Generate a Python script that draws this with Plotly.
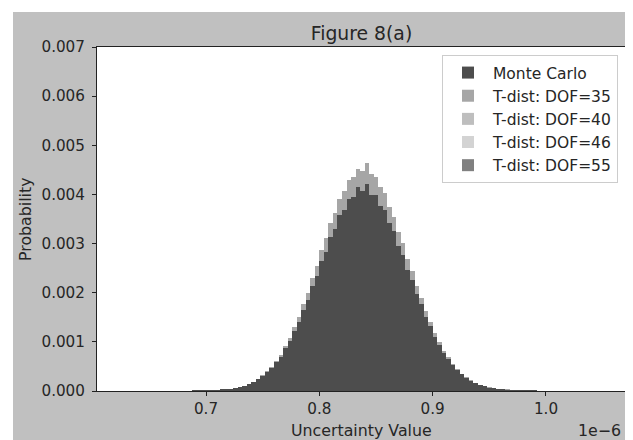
import plotly.graph_objects as go

# Bin centres (units of 1e-6)
bin_centers = [0.690, 0.694, 0.698, 0.702, 0.706, 0.710, 0.714, 0.718, 0.722, 0.726,
               0.730, 0.734, 0.738, 0.742, 0.746, 0.750, 0.754, 0.758, 0.762, 0.766,
               0.770, 0.774, 0.778, 0.782, 0.786, 0.790, 0.794, 0.798, 0.802, 0.806,
               0.810, 0.814, 0.818, 0.822, 0.826, 0.830, 0.834, 0.838, 0.842, 0.846,
               0.850, 0.854, 0.858, 0.862, 0.866, 0.870, 0.874, 0.878, 0.882, 0.886,
               0.890, 0.894, 0.898, 0.902, 0.906, 0.910, 0.914, 0.918, 0.922, 0.926,
               0.930, 0.934, 0.938, 0.942, 0.946, 0.950, 0.954, 0.958, 0.962, 0.966,
               0.970, 0.974, 0.978, 0.982, 0.986, 0.990]
bin_width = 0.004

monte_carlo = [0.0000030, 0.0000038, 0.0000065, 0.0000082, 0.0000128, 0.0000165, 0.0000250, 0.0000320, 0.0000470, 0.0000600,
               0.0000850, 0.000106, 0.000147, 0.000182, 0.000244, 0.000297, 0.000388, 0.000466, 0.000593, 0.000702,
               0.000868, 0.001010, 0.001221, 0.001395, 0.001645, 0.001842, 0.002131, 0.002335, 0.002640, 0.002838,
               0.003140, 0.003305, 0.003583, 0.003690, 0.003917, 0.003952, 0.004150, 0.004060, 0.004210, 0.003995,
               0.003980, 0.003770, 0.003680, 0.003410, 0.003258, 0.002959, 0.002768, 0.002462, 0.002255, 0.001964,
               0.001761, 0.001502, 0.001319, 0.001101, 0.000946, 0.000774, 0.000652, 0.000521, 0.000430, 0.000337,
               0.000273, 0.000208, 0.000166, 0.000123, 0.0000960, 0.0000700, 0.0000540, 0.0000380, 0.0000290, 0.0000200,
               0.0000150, 0.0000100, 0.0000072, 0.0000048, 0.0000034, 0.0000021]

# T-distribution histograms (DOF 35/40/46/55) overlap almost exactly in the picture
tdist_values = [0.0000028, 0.0000042, 0.0000058, 0.0000090, 0.0000120, 0.0000178, 0.0000236, 0.0000340, 0.0000450, 0.0000630,
                0.0000840, 0.000112, 0.000146, 0.000192, 0.000248, 0.000318, 0.000398, 0.000490, 0.000620, 0.000742,
                0.000915, 0.001080, 0.001298, 0.001502, 0.001765, 0.002000, 0.002295, 0.002548, 0.002860, 0.003110,
                0.003420, 0.003630, 0.003915, 0.004070, 0.004300, 0.004360, 0.004520, 0.004480, 0.004630, 0.004410,
                0.004360, 0.004150, 0.004020, 0.003750, 0.003550, 0.003240, 0.003005, 0.002690, 0.002435, 0.002130,
                0.001890, 0.001620, 0.001405, 0.001178, 0.001000, 0.000820, 0.000684, 0.000548, 0.000448, 0.000350,
                0.000280, 0.000214, 0.000169, 0.000126, 0.0000965, 0.0000720, 0.0000535, 0.0000392, 0.0000286, 0.0000205,
                0.0000147, 0.0000104, 0.0000071, 0.0000049, 0.0000033, 0.0000022]

tdist_labels = ["T-dist: DOF=55", "T-dist: DOF=46", "T-dist: DOF=40", "T-dist: DOF=35"]
tdist_colors = ["#808080", "#d3d3d3", "#bebebe", "#a6a6a6"]
tdist_ranks = [5, 4, 3, 2]

x_tickvals = [0.7, 0.8, 0.9, 1.0]
x_ticktext = ["0.7", "0.8", "0.9", "1.0"]
y_tickvals = [0.000, 0.001, 0.002, 0.003, 0.004, 0.005, 0.006, 0.007]

FONT = "DejaVu Sans"
TXT = "#262626"
TICK_SIZE = 15.2
LABEL_SIZE = 15.8
LEGEND_SIZE = 15.5
TITLE_SIZE = 18.8

fig = go.Figure()
for lab, col, rk in zip(tdist_labels, tdist_colors, tdist_ranks):
    fig.add_trace(go.Bar(x=bin_centers, y=tdist_values, width=bin_width, name=lab,
                         marker=dict(color=col, line=dict(width=0)), legendrank=rk))
fig.add_trace(go.Bar(x=bin_centers, y=monte_carlo, width=bin_width, name="Monte Carlo",
                     marker=dict(color="#4d4d4d", line=dict(width=0)), legendrank=1))

# The page body has an 8px margin; figure is 625x432 so it ends at the window edge.
OFF = 8
FW, FH = 633 - OFF, 440 - OFF
# plot area in page coordinates: left 97, right 626, top 47, bottom 391
L, R, T, B = 97 - OFF, 626 - OFF, 47 - OFF, 391 - OFF
W, H = R - L, B - T

def px(xp):  # page x -> paper
    return (xp - OFF - L) / W

def py(yp):  # page y -> paper
    return (B - (yp - OFF)) / H

GRAY = "#c0c0c0"

fig.update_layout(
    width=FW, height=FH,
    margin=dict(l=L, r=FW - R, t=T, b=FH - B),
    paper_bgcolor=GRAY,
    plot_bgcolor="white",
    barmode="overlay", bargap=0,
    font=dict(family=FONT, size=TICK_SIZE, color=TXT),
    title=dict(text="Figure 8(a)", x=px(361.5), xref="paper", xanchor="center",
               y=1 - (33 - OFF) / FH, yref="container", yanchor="middle",
               font=dict(family=FONT, size=TITLE_SIZE, color=TXT)),
    showlegend=True,
    legend=dict(x=px(618), y=py(55), xanchor="right", yanchor="top",
                bgcolor="white", bordercolor="#cccccc", borderwidth=1,
                font=dict(family=FONT, size=LEGEND_SIZE, color=TXT),
                traceorder="normal", itemwidth=40),
    xaxis=dict(range=[0.6038, 1.0706], tickvals=x_tickvals, ticktext=x_ticktext,
               showgrid=False, zeroline=False, showline=True, linecolor="#222222",
               linewidth=1, mirror=True, ticks="outside", ticklen=4, tickcolor="#222222",
               tickfont=dict(family=FONT, size=TICK_SIZE, color=TXT)),
    yaxis=dict(range=[0, 0.007], tickvals=y_tickvals, tickformat=".3f",
               showgrid=False, zeroline=False, showline=True, linecolor="#222222",
               linewidth=1, mirror=True, ticks="outside", ticklen=4, tickcolor="#222222",
               ticklabelstandoff=4,
               tickfont=dict(family=FONT, size=TICK_SIZE, color=TXT)),
    shapes=[
        # white strips at the top and left of the page, outside the grey figure face
        dict(type="rect", xref="paper", yref="paper", layer="below",
             x0=px(0), x1=px(700), y0=py(12), y1=py(0),
             fillcolor="white", line=dict(width=0)),
        dict(type="rect", xref="paper", yref="paper", layer="below",
             x0=px(0), x1=px(13), y0=py(500), y1=py(0),
             fillcolor="white", line=dict(width=0)),
    ],
    annotations=[
        dict(text="Probability", xref="paper", yref="paper", x=px(25), y=0.5,
             textangle=-90, showarrow=False, xanchor="center", yanchor="middle",
             font=dict(family=FONT, size=LABEL_SIZE, color=TXT)),
        dict(text="Uncertainty Value", xref="paper", yref="paper", x=0.5, y=py(430),
             showarrow=False, xanchor="center", yanchor="middle",
             font=dict(family=FONT, size=LABEL_SIZE, color=TXT)),
        dict(text="1e\u22126", xref="paper", yref="paper", x=px(623), y=py(430),
             showarrow=False, xanchor="right", yanchor="middle",
             font=dict(family=FONT, size=LABEL_SIZE, color=TXT)),
    ],
)

fig.write_html("out.html")
